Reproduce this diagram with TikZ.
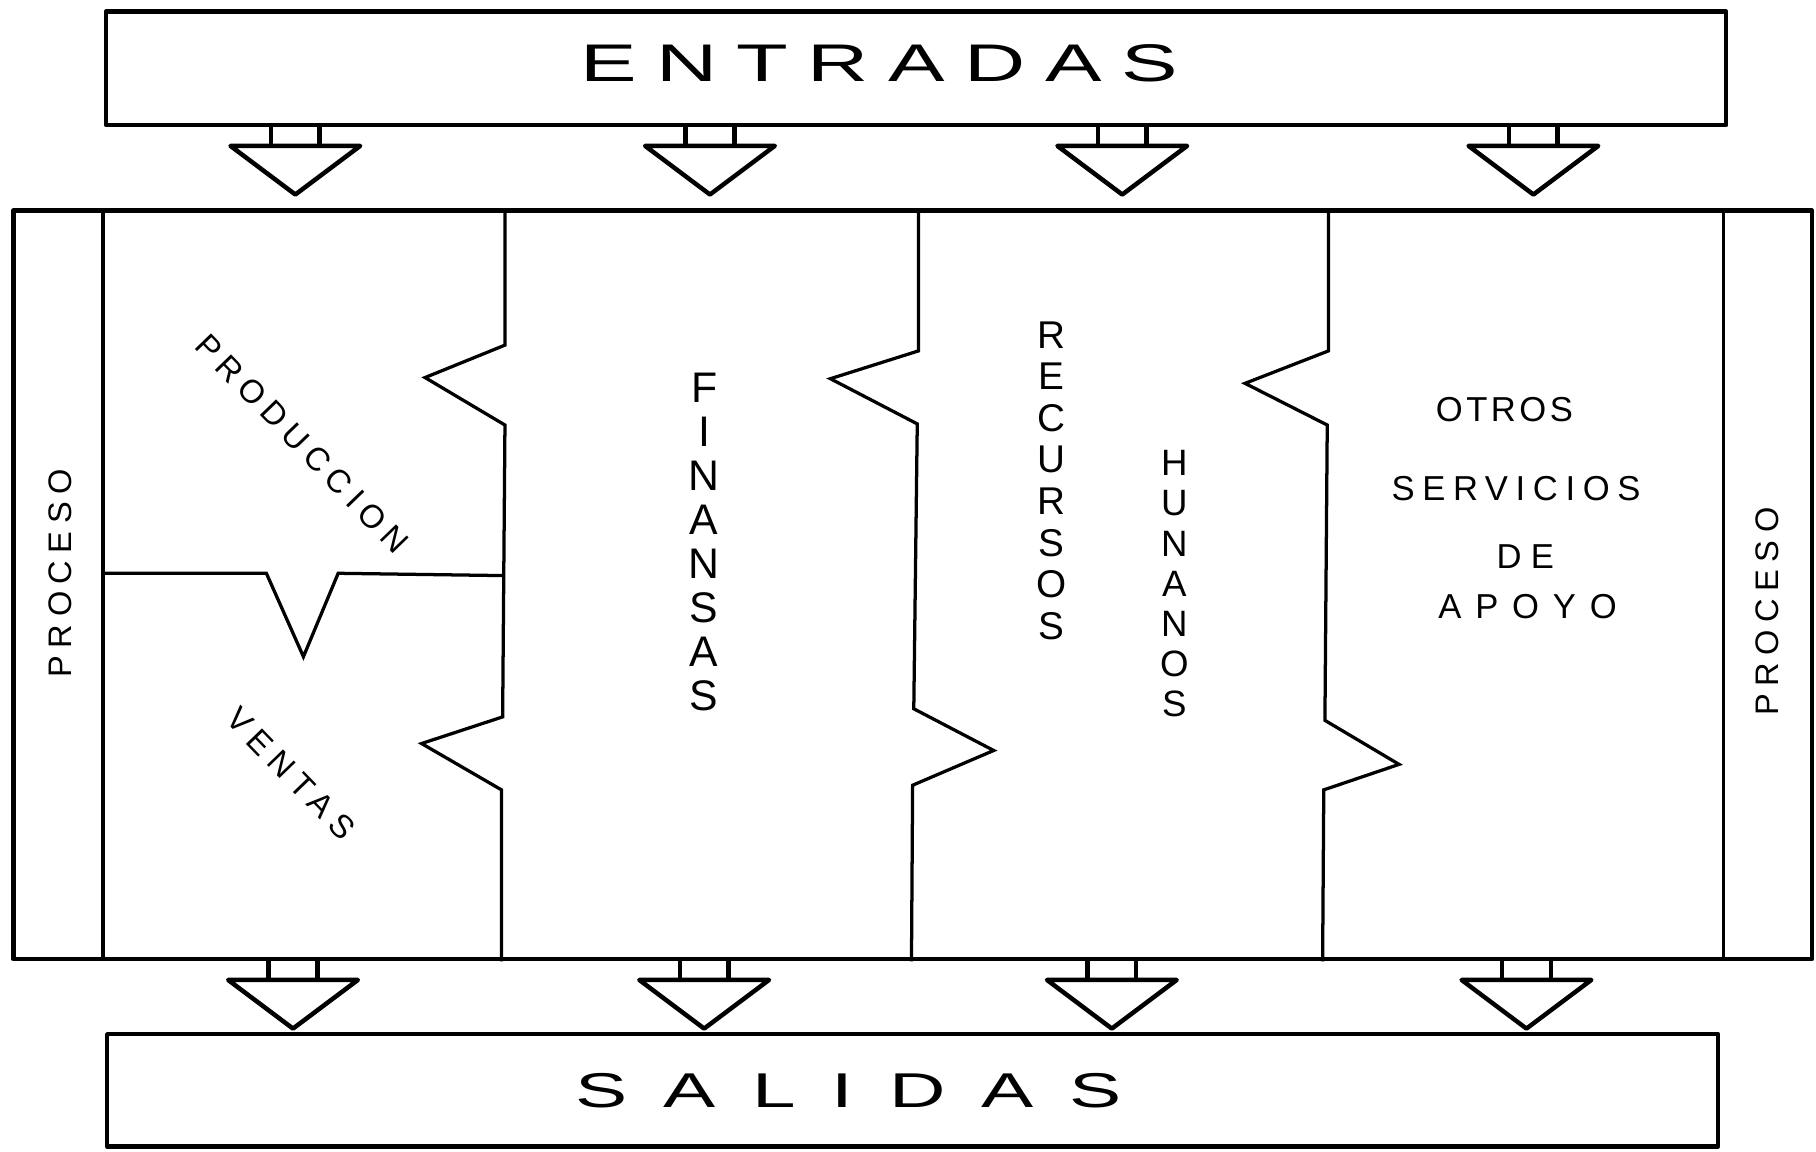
\documentclass[tikz,border=0pt]{standalone}
\usepackage{fontspec}
\setmainfont{Liberation Sans}
\usepackage{graphicx}
\usetikzlibrary{calc}
\tikzset{>=latex}
\tikzstyle{caja} = [%
					line width = 1.1pt,
					line join = round]
\tikzstyle{division} = [%
					line width = 0.8pt,
					line join = miter]
\tikzstyle{rotulo} = [%
					inner sep = 0pt,
					font = \fontsize{8}{10}\selectfont]
\tikzstyle{columna} = [%
					inner sep = 0pt,
					align = center]
\tikzset{flecha/.pic={
		\draw[caja] (-21,0) -- (-21,16) (21,0) -- (21,16);
		\draw[caja] (-56,16) -- (56,16) -- (0,58) -- cycle;
	}}
\newcommand{\espaciado}[2]{{\addfontfeature{LetterSpace=#1}#2}}
\newcommand{\ancho}[1]{\scalebox{1.6}[1]{#1}}

\begin{document}
\begin{tikzpicture}[x=0.01cm, y=-0.01cm]
	\useasboundingbox (0,0) rectangle (1568,994);
	
	% Nodes
	%% Entradas
	\node[caja, draw, minimum width=13.98cm, minimum height=0.98cm] (ent) at (791,59) {};
	\node[inner sep=0pt, font=\fontsize{13}{15}\selectfont] (ent-txt) at (759,55) {\ancho{\espaciado{23}{ENTRADAS}}};
	%% Proceso
	\node[caja, draw, minimum width=15.52cm, minimum height=6.46cm] (proc) at (788,505) {};
	%% Salidas
	\node[caja, draw, minimum width=13.90cm, minimum height=0.97cm] (sal) at (788,941.5) {};
	\node[inner sep=0pt, font=\fontsize{12}{14}\selectfont] (sal-txt) at (733,942) {\ancho{\espaciado{46}{SALIDAS}}};
	
	% Arrows
	\foreach \x in {255,613,969,1324}
		\pic at (\x,0 |- ent.south) {flecha};
	\foreach \x in {253,608,960,1318}
		\pic at (\x,0 |- proc.south) {flecha};
	
	% Columns
	\draw[division] (89,0 |- proc.north) -- (89,0 |- proc.south);
	\draw[division] (1488,0 |- proc.north) -- (1488,0 |- proc.south);
	\draw[division] (436,0 |- proc.north) -- (436,298) -- (367,326) -- (436,367) -- (434,619) -- (364,642) -- (433,682) -- (433,0 |- proc.south);
	\draw[division] (793,0 |- proc.north) -- (793,303) -- (717,327) -- (792,366) -- (789,612) -- (858,648) -- (788,678) -- (787,0 |- proc.south);
	\draw[division] (1147,0 |- proc.north) -- (1147,303) -- (1075,331) -- (1146,367) -- (1144,622) -- (1208,660) -- (1143,682) -- (1142,0 |- proc.south);
	\draw[division] (89,495) -- (230,495) -- (262,567) -- (292,495) -- (435,497);
	
	% Labels
	\node[rotulo, rotate=90] (proc-izq) at (52,495) {\espaciado{23}{PROCESO}};
	\node[rotulo, rotate=90] (proc-der) at (1526,528) {\espaciado{23}{PROCESO}};
	\node[rotulo, rotate=-46] (prod) at (261,383) {\espaciado{23}{PRODUCCION}};
	\node[rotulo, rotate=-46] (vent) at (251,668) {\espaciado{25}{VENTAS}};
	\node[columna, font=\fontsize{10.5}{10.8}\selectfont] (fin) at (608,468) {F\\I\\N\\A\\N\\S\\A\\S};
	\node[columna, font=\fontsize{9.5}{10.2}\selectfont] (rec) at (908,415) {R\\E\\C\\U\\R\\S\\O\\S};
	\node[columna, font=\fontsize{9}{9.85}\selectfont] (hum) at (1014,504) {H\\U\\N\\A\\N\\O\\S};
	%% Otros servicios
	\node[rotulo, font=\fontsize{8.5}{10}\selectfont] (otr) at (1299,354) {\espaciado{10}{OTROS}};
	\node[rotulo, font=\fontsize{8.5}{10}\selectfont] (serv) at (1309,422) {\espaciado{22}{SERVICIOS}};
	\node[rotulo, font=\fontsize{8.5}{10}\selectfont] (de) at (1317,481) {\espaciado{27}{DE}};
	\node[rotulo, font=\fontsize{8.5}{10}\selectfont] (apo) at (1319,524) {\espaciado{40}{APOYO}};
\end{tikzpicture}
\end{document}
